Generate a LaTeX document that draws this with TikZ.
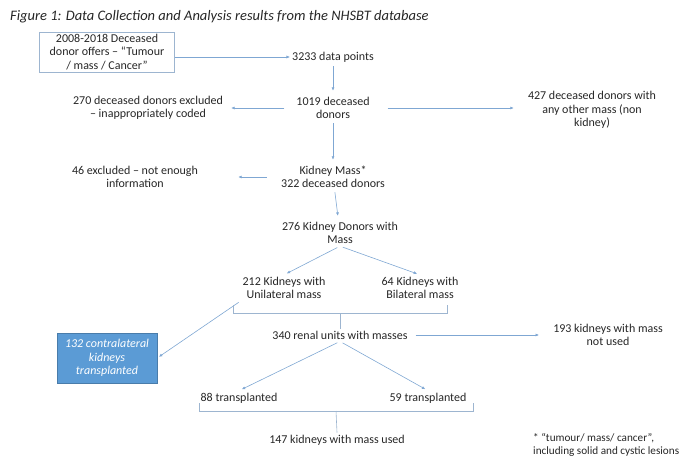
\documentclass[tikz,border=0pt]{standalone}
\usepackage{fontspec}
\setmainfont{Carlito}
\usetikzlibrary{arrows.meta}
\definecolor{arrowblue}{HTML}{7FA7D3}
\definecolor{boxline}{HTML}{9DB5D0}
\definecolor{fillblue}{HTML}{5B9BD5}
\definecolor{txtgrey}{HTML}{262626}
\tikzset{
  lbl/.style={align=center, font=\fontsize{12}{13.5}\selectfont, text=txtgrey, inner sep=2pt},
  arr/.style={draw=arrowblue, line width=0.6pt, -{Latex[length=3.5pt,width=3pt]}},
  brace/.style={draw=boxline, line width=0.6pt}
}
\begin{document}
\begin{tikzpicture}[x=1pt, y=-1pt]
    \useasboundingbox (0,0) rectangle (682,464);
    \node [lbl, anchor=west, font=\fontsize{14.5}{16}\selectfont\itshape] (title) at (8,17)
      {Figure 1: Data Collection and Analysis results from the NHSBT database};
    \node [lbl, draw=boxline, line width=0.8pt, minimum width=135pt, minimum height=39pt] (offers) at (107,52)
      {2008-2018 Deceased\\donor offers -- “Tumour\\/ mass / Cancer”};
    \node [lbl] (points) at (333,57) {3233 data points};
    \node [lbl] (donors) at (333,108) {1019 deceased\\donors};
    \node [lbl] (coded) at (148,108) {270 deceased donors excluded\\-- inappropriately coded};
    \node [lbl] (other) at (592,110) {427 deceased donors with\\any other mass (non\\kidney)};
    \node [lbl] (kmass) at (333,177) {Kidney Mass*\\322 deceased donors};
    \node [lbl] (noinfo) at (135,177) {46 excluded -- not enough\\information};
    \node [lbl] (kdonors) at (340,233) {276 Kidney Donors with\\Mass};
    \node [lbl] (uni) at (284,288) {212 Kidneys with\\Unilateral mass};
    \node [lbl] (bi) at (420,288) {64 Kidneys with\\Bilateral mass};
    \node [lbl] (renal) at (340,335) {340 renal units with masses};
    \node [lbl] (unused) at (608,335) {193 kidneys with mass\\not used};
    \node [lbl, fill=fillblue, draw=fillblue!80!black, text=white, font=\fontsize{12}{13.5}\selectfont\itshape,
      minimum width=100pt, minimum height=50pt] (contra) at (107,358)
      {132 contralateral\\kidneys\\transplanted};
    \node [lbl] (tx1) at (239,398) {88 transplanted};
    \node [lbl] (tx2) at (428,398) {59 transplanted};
    \node [lbl] (used) at (337,440) {147 kidneys with mass used};
    \node [lbl, align=left, anchor=west, font=\fontsize{11.2}{13.5}\selectfont] (note) at (531,445)
      {* “tumour/ mass/ cancer”,\\including solid and cystic lesions};

    \draw [arr] (offers.east |- points) -- (points.west);
    \draw [arr, shorten <=2pt, shorten >=4pt] (points) -- (donors);
    \draw [arr, shorten <=10pt, shorten >=6pt] (donors.west) -- (coded.east |- donors);
    \draw [arr, shorten <=16pt, shorten >=12pt] (donors.east) -- (other.west |- donors);
    \draw [arr, shorten <=2pt, shorten >=4pt] (donors) -- (kmass);
    \draw [arr, shorten <=12pt, shorten >=38pt] (kmass.west) -- (noinfo.east |- kmass);
    \draw [arr, shorten <=2pt, shorten >=4pt] (kmass) -- (kdonors);
    \draw [arr, shorten <=3pt, shorten >=3pt] (kdonors.south) -- (uni.north);
    \draw [arr, shorten <=3pt, shorten >=3pt] (kdonors.south) -- (bi.north);
    \draw [arr, shorten <=2pt, shorten >=2pt] (uni.south west) -- (contra.east);
    \draw [arr, shorten <=6pt, shorten >=12pt] (renal.east) -- (unused.west |- renal);
    \draw [arr, shorten <=3pt, shorten >=3pt] (renal.south) -- (tx1.north);
    \draw [arr, shorten <=3pt, shorten >=3pt] (renal.south) -- (tx2.north);

    \coordinate (b1) at (340,313);
    \draw [brace] (233,305) -- (233,313) -- (447,313) -- (447,305);
    \draw [brace] (b1) -- (renal.north);
    \coordinate (b2) at (336,411);
    \draw [brace] (199,403) -- (199,411) -- (473,411) -- (473,403);
    \draw [brace] (b2) -- (used.north);
  \end{tikzpicture}
\end{document}
